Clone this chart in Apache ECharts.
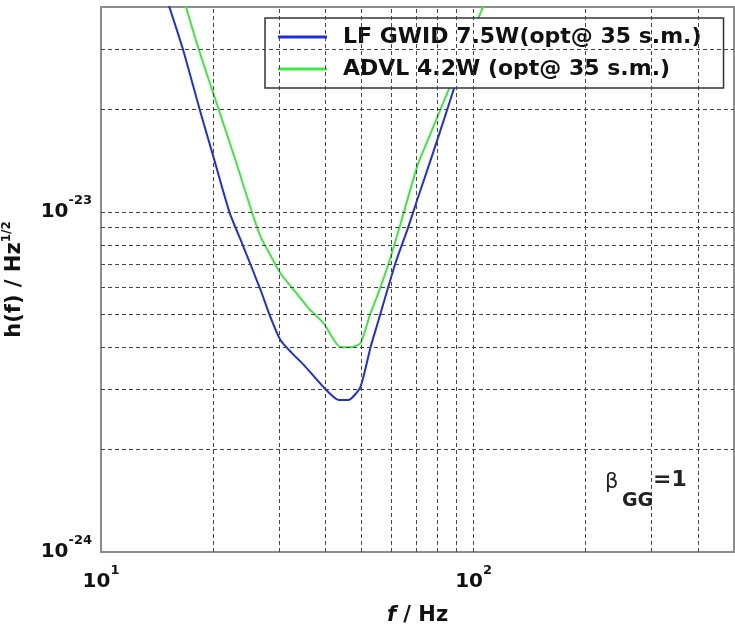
<!DOCTYPE html>
<html><head><meta charset="utf-8">
<script src="https://cdn.jsdelivr.net/npm/echarts@6/dist/echarts.min.js"></script>
<style>html,body{margin:0;padding:0;background:#fff}#c{width:735px;height:624px}</style>
</head><body><div id="c"></div>
<script>
// ---- data ----
const seriesNames = ['LF GWID 7.5W(opt@ 35 s.m.)', 'ADVL 4.2W (opt@ 35 s.m.)'];
const freqBlue = [15.2, 16.6, 18.4, 20.0, 22.1, 24.0, 26.8, 28.5, 30.3, 32.5, 35.0, 39.6, 43.4, 46.2, 49.7, 52.9, 55.1, 61.7, 66.4, 70.6, 78, 85, 89, 96];
const hBlue = [4.05e-23, 3.0e-23, 2.0e-23, 1.46e-23, 1.0e-23, 8.0e-24, 5.9e-24, 4.9e-24, 4.2e-24, 3.85e-24, 3.55e-24, 3.05e-24, 2.8e-24, 2.8e-24, 3.06e-24, 4.0e-24, 4.65e-24, 7.07e-24, 8.85e-24, 1.085e-23, 1.5e-23, 2.0e-23, 2.34e-23, 3.0e-23];
const freqGreen = [16.8, 18.3, 20.7, 23.0, 25.4, 26.8, 28.5, 30.3, 32.9, 36.0, 39.6, 43.9, 46.7, 49.7, 52.9, 55.1, 59.2, 64, 70.6, 76, 81.5, 90, 98, 106.5];
const hGreen = [4.1e-23, 3.0e-23, 2.0e-23, 1.41e-23, 1.0e-23, 8.46e-24, 7.45e-24, 6.6e-24, 5.9e-24, 5.22e-24, 4.7e-24, 4.0e-24, 4.0e-24, 4.11e-24, 5.04e-24, 5.64e-24, 7.07e-24, 9.4e-24, 1.36e-23, 1.66e-23, 2.0e-23, 2.6e-23, 3.25e-23, 4.05e-23];
const xGrid = [20, 30, 40, 50, 60, 70, 80, 90, 100, 200, 300, 400];
const yGrid = [2e-24, 3e-24, 4e-24, 5e-24, 6e-24, 7e-24, 8e-24, 9e-24, 1e-23, 2e-23, 3e-23];
const xRange = [10, 500];
const yRange = [1e-24, 4e-23];
const annotation = ['β', 'GG', '=1'];

// ---- chart ----
// ECharts rounds to at most 20 decimals, so strain values are handed to the
// log axis in units of 1e-24 and the tick labels add the exponent back.
const Y_EXP = -24;
const yUnit = v => v * 1e24;
const pair = (xs, ys) => xs.map((x, i) => [x, yUnit(ys[i])]);
const FONT = 'DejaVu Sans';
function powLabel(v, shift) {
  const e = Math.log10(v);
  const r = Math.round(e);
  if (Math.abs(e - r) > 1e-6) return '';
  return '{b|10}{s|' + (r + shift) + '}';
}
const tickRich = {
  b: { fontSize: 20, fontWeight: 'bold', fontFamily: FONT, color: '#111', lineHeight: 36 },
  s: { fontSize: 13, fontWeight: 'bold', fontFamily: FONT, color: '#111', lineHeight: 16, verticalAlign: 'top' }
};
const gridLineStyle = { color: '#444', type: [4, 3], width: 1 };

const chart = echarts.init(document.getElementById('c'), null, { renderer: 'canvas' });
chart.setOption({
  animation: false,
  backgroundColor: '#fff',
  grid: { left: 101, right: 1, top: 7, bottom: 72, containLabel: false, outerBoundsMode: 'none',
    show: true, borderColor: '#8c8c8c', borderWidth: 2, backgroundColor: 'transparent' },
  xAxis: {
    type: 'log', logBase: 10, min: xRange[0], max: xRange[1],
    axisLine: { show: false }, axisTick: { show: false }, splitLine: { show: false },
    axisLabel: { margin: 12, formatter: v => powLabel(v, 0), rich: tickRich },
    name: '{i|f} / Hz', nameLocation: 'middle', nameGap: 53,
    nameTextStyle: { fontSize: 21, fontWeight: 'bold', fontFamily: FONT, color: '#111',
      rich: { i: { fontSize: 21, fontWeight: 'bold', fontStyle: 'italic', fontFamily: FONT, color: '#111' } } }
  },
  yAxis: {
    type: 'log', logBase: 10, min: yUnit(yRange[0]), max: yUnit(yRange[1]),
    axisLine: { show: false }, axisTick: { show: false }, splitLine: { show: false },
    axisLabel: { margin: 9, formatter: v => powLabel(v, Y_EXP), rich: tickRich },
    name: '{a|h(f) / Hz}{s|1/2}', nameLocation: 'middle', nameGap: 72, nameRotate: 90,
    nameTextStyle: {
      rich: {
        a: { fontSize: 21, fontWeight: 'bold', fontFamily: FONT, color: '#111', lineHeight: 28 },
        s: { fontSize: 12, fontWeight: 'bold', fontFamily: FONT, color: '#111', lineHeight: 14, verticalAlign: 'top' }
      }
    }
  },
  legend: {
    data: seriesNames, orient: 'vertical', left: 265, top: 18,
    backgroundColor: '#fff', borderColor: '#333', borderWidth: 1.5, borderRadius: 0,
    padding: [7, 22, 7, 13], itemGap: 8, itemWidth: 49, itemHeight: 3, icon: 'rect',
    textStyle: { fontSize: 22, fontWeight: 'bold', fontFamily: FONT, color: '#111', padding: [0, 0, 0, 11], lineHeight: 24 }
  },
  series: [
    {
      name: 'grid', type: 'line', data: [[xRange[0], yUnit(yRange[0])]], showSymbol: false, symbol: 'none',
      lineStyle: { opacity: 0 }, silent: true, z: 1,
      markLine: {
        silent: true, symbol: ['none', 'none'], label: { show: false }, lineStyle: gridLineStyle,
        data: xGrid.map(v => ({ xAxis: v })).concat(yGrid.map(v => ({ yAxis: yUnit(v) })))
      }
    },
    {
      name: seriesNames[0], type: 'line', data: pair(freqBlue, hBlue), symbol: 'none', smooth: 0.2,
      color: '#1f2fe0', lineStyle: { width: 2, color: '#1f2fe0' }, z: 3
    },
    {
      name: seriesNames[1], type: 'line', data: pair(freqGreen, hGreen), symbol: 'none', smooth: 0.2,
      color: '#3ee83e', lineStyle: { width: 2, color: '#3ee83e' }, z: 3
    }
  ],
  graphic: [
    { type: 'text', x: 605, y: 483, z: 10, style: { text: annotation[0], fontSize: 21, fontFamily: FONT, fill: '#222', align: 'left', verticalAlign: 'middle' } },
    { type: 'text', x: 622, y: 501, z: 10, style: { text: annotation[1], fontSize: 19, fontWeight: 'bold', fontFamily: FONT, fill: '#222', align: 'left', verticalAlign: 'middle' } },
    { type: 'text', x: 653, y: 480, z: 10, style: { text: annotation[2], fontSize: 22, fontWeight: 'bold', fontFamily: FONT, fill: '#222', align: 'left', verticalAlign: 'middle' } }
  ]
});
</script>
</body></html>
